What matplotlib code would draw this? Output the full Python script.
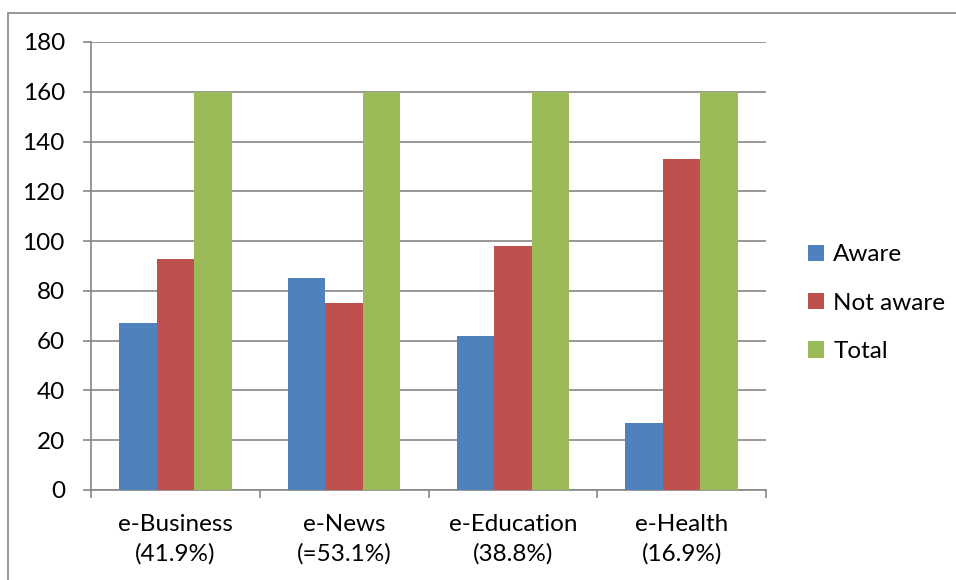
import matplotlib
matplotlib.use("Agg")
from matplotlib import pyplot as plt
from matplotlib.patches import Rectangle
import numpy as np

categories = ["e-Business\n(41.9%)", "e-News\n(=53.1%)", "e-Education\n(38.8%)", "e-Health\n(16.9%)"]
aware = [67, 85, 62, 27]
not_aware = [93, 75, 98, 133]
total = [160, 160, 160, 160]
series_names = ["Aware", "Not aware", "Total"]
colors = ["#4F81BD", "#C0504D", "#9BBB59"]
grid_color = "#868686"


def main():
    plt.rcParams['font.family'] = ['Lato', 'DejaVu Sans']
    plt.rcParams['font.size'] = 17.5

    fig = plt.figure(figsize=(9.56, 5.8), dpi=100)
    ax = fig.add_axes([91 / 956, 1 - 490 / 580, 675 / 956, 448 / 580])

    # outer chart frame (runs off the right and bottom edges)
    fig.patches.append(Rectangle((8 / 956, -0.1), 1.2, 1 - 13 / 580 + 0.1,
                                 transform=fig.transFigure, fill=False,
                                 edgecolor=grid_color, linewidth=1.2))

    x = np.arange(len(categories))
    w = 1 / 4.5
    for i, vals in enumerate([aware, not_aware, total]):
        ax.bar(x + (i - 1) * w, vals, width=w, color=colors[i],
               label=series_names[i], zorder=3)

    ax.set_xlim(-0.5, len(categories) - 0.5)
    ax.set_ylim(0, 180)
    ax.set_yticks(np.arange(0, 181, 20))
    ax.yaxis.grid(True, color=grid_color, linewidth=1.2, zorder=0)
    ax.set_axisbelow(True)

    # category labels sit between the boundary ticks
    ax.set_xticks(np.arange(-0.5, len(categories), 1))
    ax.set_xticklabels([])
    ax.set_xticks(x, minor=True)
    ax.set_xticklabels(categories, minor=True, linespacing=1.5)
    ax.tick_params(axis='x', which='minor', length=0, pad=17)
    ax.tick_params(axis='x', which='major', length=5.8, width=1.2,
                   color=grid_color)
    ax.tick_params(axis='y', length=5.8, width=1.2, color=grid_color, pad=13)

    for side in ['top', 'right']:
        ax.spines[side].set_visible(False)
    for side in ['left', 'bottom']:
        ax.spines[side].set_color(grid_color)
        ax.spines[side].set_linewidth(1.2)

    ax.legend(loc='center left', bbox_to_anchor=(1.062, 0.417), frameon=False,
              borderaxespad=0, borderpad=0,
              handlelength=0.65, handleheight=0.65, handletextpad=0.4,
              labelspacing=1.13, fontsize=17.5)

    fig.savefig("out.png", dpi=100)


if __name__ == "__main__":
    main()
